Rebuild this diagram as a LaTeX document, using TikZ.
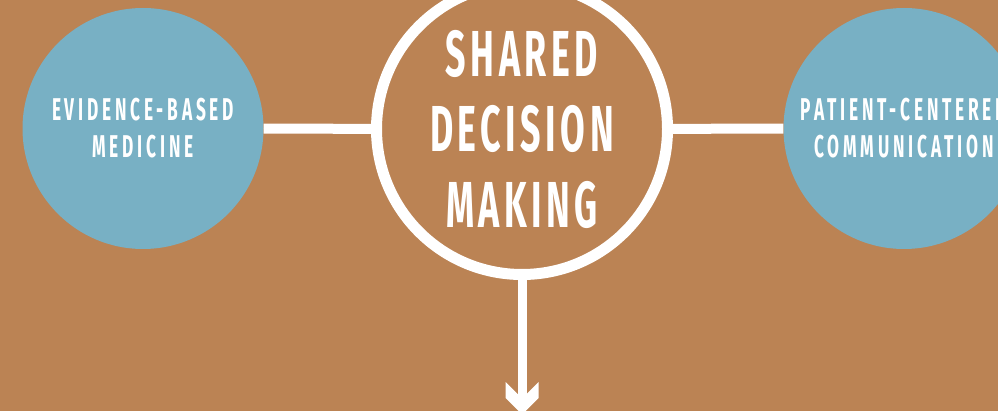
\documentclass[tikz,border=0pt]{standalone}
\usepackage{fontspec}
\newfontfamily\bigfont[FakeStretch=0.55,LetterSpace=7]{Fira Sans}
\newfontfamily\smallfont[FakeStretch=0.55,LetterSpace=12]{Fira Sans}
\definecolor{bgbrown}{RGB}{187,131,84}
\definecolor{circblue}{RGB}{120,176,196}
\tikzset{
  bluecirc/.style={circle, fill=circblue, minimum size=241pt, inner sep=0pt,
    text=white, align=center, font=\smallfont\bfseries\fontsize{31.5}{37}\selectfont},
  maincirc/.style={circle, draw=white, line width=11pt, minimum size=291pt, inner sep=0pt,
    text=white, align=center, font=\bigfont\bfseries\fontsize{65}{75.5}\selectfont},
  conn/.style={draw=white, line width=10pt},
  stem/.style={draw=white, line width=9pt},
  arrowhead/.style={fill=white}
}
\begin{document}
\begin{tikzpicture}[x=1pt,y=-1pt]
  \useasboundingbox (0,0) rectangle (998,411);
  \clip (0,0) rectangle (998,411);
  \fill[bgbrown] (0,0) rectangle (998,411);
  \node[bluecirc] (ebm) at (143,128.5) {EVIDENCE-BASED\\MEDICINE};
  \node[bluecirc] (pcc) at (904,128.5) {PATIENT-CENTERED\\COMMUNICATION};
  \node[maincirc] (sdm) at (522,129) {SHARED\\DECISION\\MAKING};
  \draw[conn] (ebm) -- (sdm);
  \draw[conn] (sdm) -- (pcc);
  \coordinate (notch) at (522,398.5);
  \coordinate (tip) at (522,414.5);
  \draw[stem] (sdm.south) -- (notch);
  \fill[arrowhead] (tip) -- ++(16.5,-16.5) -- ++(0,-16) -- (notch) -- ++(-16.5,-16.5) -- ++(0,16) -- cycle;
\end{tikzpicture}
\end{document}
